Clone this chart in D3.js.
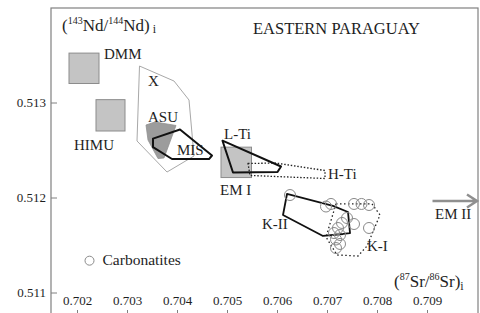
<!DOCTYPE html>
<html>
<head>
<meta charset="utf-8">
<script src="https://cdnjs.cloudflare.com/ajax/libs/d3/7.8.5/d3.min.js"></script>
<style>
body { margin: 0; background: #fff; }
svg { display: block; font-family: "Liberation Serif", "Times New Roman", serif; }
</style>
</head>
<body>
<svg class="chart"></svg>
<script>
// axis ticks
var xTicks = [0.702, 0.703, 0.704, 0.705, 0.706, 0.707, 0.708, 0.709];
var yTicks = [0.511, 0.512, 0.513];

// mantle end-member boxes: [Sr0, Sr1, Nd0, Nd1]
var dmmBox = [0.70184, 0.70244, 0.51320, 0.51352];
var himuBox = [0.70238, 0.70296, 0.51270, 0.51303];
var em1Box = [0.70488, 0.70549, 0.51221, 0.51253];

// fields: [Sr, Nd]
var xField = [[0.70325, 0.513384], [0.70394, 0.513226], [0.70424, 0.513026], [0.70434, 0.512437], [0.70380, 0.512268], [0.70320, 0.512595]];
var asuField = [[0.70338, 0.512763], [0.70356, 0.512795], [0.70398, 0.512758], [0.70374, 0.512416], [0.70362, 0.512410], [0.70342, 0.512605]];
var misField = [[0.70352, 0.512620], [0.70406, 0.512716], [0.70470, 0.512442], [0.70464, 0.512405], [0.70390, 0.512405], [0.70352, 0.512530]];
var lTiField = [[0.70491, 0.512598], [0.70608, 0.512326], [0.70601, 0.512268], [0.70512, 0.512263]];
var hTiField = [[0.70542, 0.512358], [0.70598, 0.512363], [0.70696, 0.512284], [0.70696, 0.512200], [0.70546, 0.512232]];
var k2Field = [[0.70620, 0.512037], [0.70712, 0.511911], [0.70742, 0.511847], [0.70746, 0.511626], [0.70732, 0.511616], [0.70692, 0.511595], [0.70612, 0.511816]];
var k1Field = [[0.70718, 0.511932], [0.70790, 0.511932], [0.70806, 0.511816], [0.70780, 0.511489], [0.70762, 0.511384], [0.70720, 0.511395], [0.70698, 0.511584]];

// carbonatite samples
var carbonatites = [
	[0.70626, 0.512026], [0.70698, 0.511905], [0.70708, 0.511932], [0.70754, 0.511932],
	[0.70769, 0.511932], [0.70784, 0.511921], [0.70740, 0.511784], [0.70730, 0.511732],
	[0.70722, 0.511679], [0.70714, 0.511626], [0.70726, 0.511605], [0.70718, 0.511558],
	[0.70726, 0.511511], [0.70718, 0.511468], [0.70754, 0.511721], [0.70784, 0.511679]
];

var fieldLabels = [
	{ name: "DMM", sr: 0.70254, nd: 0.513458 },
	{ name: "HIMU", sr: 0.70194, nd: 0.512500 },
	{ name: "X", sr: 0.70342, nd: 0.513174 },
	{ name: "ASU", sr: 0.70342, nd: 0.512800 },
	{ name: "MIS", sr: 0.70400, nd: 0.512447 },
	{ name: "L-Ti", sr: 0.70494, nd: 0.512616 },
	{ name: "EM I", sr: 0.70486, nd: 0.512026 },
	{ name: "H-Ti", sr: 0.70702, nd: 0.512195 },
	{ name: "K-II", sr: 0.70570, nd: 0.511668 },
	{ name: "K-I", sr: 0.70780, nd: 0.511437 },
	{ name: "EM II", sr: 0.70916, nd: 0.511774 }
];

var em2Arrow = [[0.70911, 0.511963], [0.71002, 0.511963]];
var legendPos = [0.70225, 0.511335];

var width = 480;
var height = 313;

var svg = d3.select(".chart")
	.attr("width", width)
	.attr("height", height);

var x = d3.scaleLinear().domain([0.7015, 0.7100]).range([52, 477]);
var y = d3.scaleLinear().domain([0.5108, 0.5140]).range([311.5, 7.5]);

var ink = "#1e1e1e";

// frame
svg.append("rect")
	.attr("x", 51).attr("y", 8)
	.attr("width", 427).attr("height", 308)
	.attr("fill", "none")
	.attr("stroke", "#808080")
	.attr("stroke-width", 1.2);

// axes
var yAxis = svg.append("g")
	.attr("transform", "translate(51,0)")
	.call(d3.axisLeft(y).tickValues(yTicks).tickFormat(d3.format(".3f")).tickSize(-6).tickPadding(5));
yAxis.select(".domain").remove();
yAxis.selectAll("line").attr("stroke", "#808080");
yAxis.selectAll("text").attr("font-size", 13).attr("fill", ink).attr("font-family", "Liberation Serif");

var xAxis = svg.append("g")
	.attr("transform", "translate(0,316)")
	.call(d3.axisBottom(x).tickValues(xTicks).tickFormat(d3.format(".3f")).tickSize(-6));
xAxis.select(".domain").remove();
xAxis.selectAll("line").attr("stroke", "#808080");
xAxis.selectAll("text")
	.attr("y", -11).attr("dy", 0)
	.attr("font-size", 13).attr("fill", ink).attr("font-family", "Liberation Serif");

function box(b, fill, stroke) {
	svg.append("rect")
		.attr("x", x(b[0])).attr("y", y(b[3]))
		.attr("width", x(b[1]) - x(b[0]))
		.attr("height", y(b[2]) - y(b[3]))
		.attr("fill", fill)
		.attr("stroke", stroke)
		.attr("stroke-width", 1);
}

var line = d3.line()
	.x(function(d) { return x(d[0]); })
	.y(function(d) { return y(d[1]); })
	.curve(d3.curveLinearClosed);

function field(pts, fill, stroke, sw, dash) {
	svg.append("path")
		.attr("d", line(pts))
		.attr("fill", fill)
		.attr("stroke", stroke)
		.attr("stroke-width", sw)
		.attr("stroke-linejoin", "round")
		.attr("stroke-dasharray", dash || null);
}

box(dmmBox, "#c4c4c4", "#8c8c8c");
box(himuBox, "#c4c4c4", "#8c8c8c");
box(em1Box, "#c4c4c4", "#8c8c8c");

field(xField, "none", "#a8a8a8", 1);
field(asuField, "#9c9c9c", "#909090", 0.8);
field(misField, "none", "#111", 2);
field(hTiField, "none", "#222", 1.3, "1.5,1.8");
field(lTiField, "none", "#111", 2);
field(k1Field, "none", "#222", 1.3, "1.5,2.5");
field(k2Field, "none", "#111", 1.8);

// carbonatites
svg.append("g")
	.selectAll("circle")
	.data(carbonatites)
	.enter()
	.append("circle")
		.attr("cx", function(d) { return x(d[0]); })
		.attr("cy", function(d) { return y(d[1]); })
		.attr("r", 5.5)
		.attr("fill", "none")
		.attr("stroke", "#8a8a8a")
		.attr("stroke-width", 1);

// EM II arrow
var a0 = [x(em2Arrow[0][0]), y(em2Arrow[0][1])];
var a1 = [x(em2Arrow[1][0]), y(em2Arrow[1][1])];
svg.append("path")
	.attr("d", "M" + a0[0] + "," + a0[1] + "L" + (a1[0] - 1) + "," + a1[1]
		+ "M" + (a1[0] - 11) + "," + (a1[1] - 6.5) + "L" + (a1[0] - 1) + "," + a1[1] + "L" + (a1[0] - 11) + "," + (a1[1] + 6.5))
	.attr("fill", "none")
	.attr("stroke", "#8f8f8f")
	.attr("stroke-width", 2.5);

// field labels
svg.append("g")
	.selectAll("text")
	.data(fieldLabels)
	.enter()
	.append("text")
		.attr("x", function(d) { return x(d.sr); })
		.attr("y", function(d) { return y(d.nd); })
		.attr("font-size", 15)
		.attr("fill", ink)
		.text(function(d) { return d.name; });

// legend
svg.append("circle")
	.attr("cx", x(legendPos[0])).attr("cy", y(legendPos[1]))
	.attr("r", 4.5)
	.attr("fill", "none")
	.attr("stroke", "#8a8a8a");
svg.append("text")
	.attr("x", x(legendPos[0]) + 13).attr("y", y(legendPos[1]) + 4.5)
	.attr("font-size", 15.5)
	.attr("fill", ink)
	.text("Carbonatites");

// title
svg.append("text")
	.attr("x", 253).attr("y", 34)
	.attr("font-size", 16.5)
	.attr("fill", ink)
	.text("EASTERN PARAGUAY");

// axis titles with isotopes
function isoTitle(px, py, parts) {
	var t = svg.append("text").attr("x", px).attr("y", py).attr("fill", ink).attr("font-size", 17);
	parts.forEach(function(p) {
		t.append("tspan")
			.attr("font-size", p.size)
			.attr("dy", p.dy)
			.attr("dx", p.dx || 0)
			.text(p.text);
	});
}

isoTitle(62, 31, [
	{ text: "(", size: 17, dy: 0 },
	{ text: "143", size: 10, dy: -7 },
	{ text: "Nd/", size: 17, dy: 7 },
	{ text: "144", size: 10, dy: -7 },
	{ text: "Nd)", size: 17, dy: 7 },
	{ text: "i", size: 12, dy: 1.5, dx: 3 }
]);

isoTitle(394, 287, [
	{ text: "(", size: 17, dy: 0 },
	{ text: "87", size: 10, dy: -7 },
	{ text: "Sr/", size: 17, dy: 7 },
	{ text: "86", size: 10, dy: -7 },
	{ text: "Sr)", size: 17, dy: 7 },
	{ text: "i", size: 12, dy: 3 }
]);
</script>
</body>
</html>
